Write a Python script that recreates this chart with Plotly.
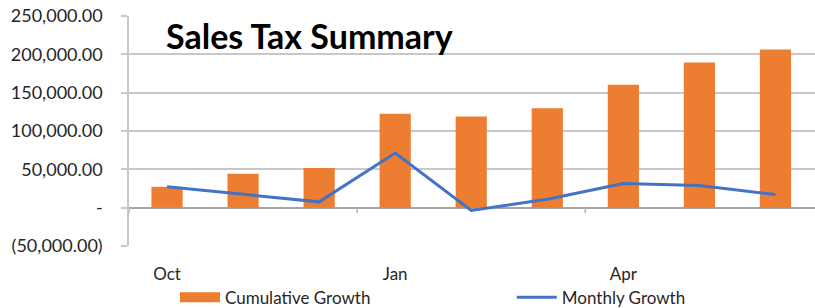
import plotly.graph_objects as go

months = ["Oct", "Nov", "Dec", "Jan", "Feb", "Mar", "Apr", "May", "Jun"]
cumulative_growth = [27200, 44400, 51800, 122600, 118800, 129600, 160300, 189200, 206300]
monthly_growth = [27200, 17200, 7600, 71200, -3600, 11000, 31400, 28800, 17200]

y_tick_vals = [-50000, 0, 50000, 100000, 150000, 200000, 250000]
y_tick_text = ["(50,000.00)", "-", "50,000.00", "100,000.00", "150,000.00", "200,000.00", "250,000.00"]
x_tick_idx = [0, 3, 6]
x_tick_text = ["Oct", "Jan", "Apr"]

FONT = "Lato"
BAR_COLOR = "#ED7D31"
LINE_COLOR = "#4472C4"
GRID_COLOR = "#C8C8C8"

x = list(range(len(months)))

fig = go.Figure()
fig.add_trace(go.Bar(x=x, y=cumulative_growth, marker=dict(color=BAR_COLOR, line=dict(width=0)),
                     width=0.41, showlegend=False, name="Cumulative Growth"))
fig.add_trace(go.Scatter(x=x, y=monthly_growth, mode="lines", line=dict(color=LINE_COLOR, width=3),
                         showlegend=False, name="Monthly Growth"))
# legend-only entries with wide swatches
fig.add_trace(go.Scatter(x=[None], y=[None], mode="lines", line=dict(color=BAR_COLOR, width=10),
                         name="Cumulative Growth", legend="legend"))
fig.add_trace(go.Scatter(x=[None], y=[None], mode="lines", line=dict(color=LINE_COLOR, width=3),
                         name="Monthly Growth", legend="legend2"))

# category tick marks on the zero line every three categories
for b in [-0.5, 2.5, 5.5]:
    fig.add_shape(type="line", xref="x", yref="y", x0=b, x1=b, y0=0, y1=-7000,
                  line=dict(color="#B0B0B0", width=1.5))

fig.add_annotation(text="<b>Sales Tax Summary</b>", xref="x", yref="y", x=-0.04, y=224000,
                   xanchor="left", yanchor="middle", showarrow=False,
                   font=dict(family=FONT, size=34, color="#000000"))

legend_common = dict(orientation="h", xanchor="left", y=-0.147, yanchor="top", itemwidth=40,
                     font=dict(family=FONT, size=17, color="#262626"), bgcolor="rgba(0,0,0,0)")

fig.update_layout(
    width=815, height=308,
    margin=dict(l=129, r=0, t=16, b=62, autoexpand=False),
    paper_bgcolor="white", plot_bgcolor="white",
    font=dict(family=FONT, size=17, color="#262626"),
    bargap=0.59,
    legend=dict(x=0.067, **legend_common),
    legend2=dict(x=0.558, **legend_common),
    xaxis=dict(range=[-0.5, 8.52], tickmode="array", tickvals=x_tick_idx, ticktext=x_tick_text,
               showgrid=False, zeroline=False, showline=False, ticks="",
               ticklabelstandoff=16, tickfont=dict(size=17)),
    yaxis=dict(range=[-50000, 250000], tickmode="array", tickvals=y_tick_vals, ticktext=y_tick_text,
               showgrid=True, gridcolor=GRID_COLOR, gridwidth=1.5,
               zeroline=True, zerolinecolor="#A6A6A6", zerolinewidth=1.5,
               showline=True, linecolor=GRID_COLOR, linewidth=1.5,
               ticks="outside", ticklen=6, tickcolor=GRID_COLOR, tickwidth=1.5,
               ticklabeloverflow="allow", ticklabelstandoff=15, tickfont=dict(size=18)),
)

# remove the default page margin so the figure fills the 815x308 window exactly
fig.write_html("out.html", config={"displayModeBar": False},
               post_script="document.body.style.margin='0';")
